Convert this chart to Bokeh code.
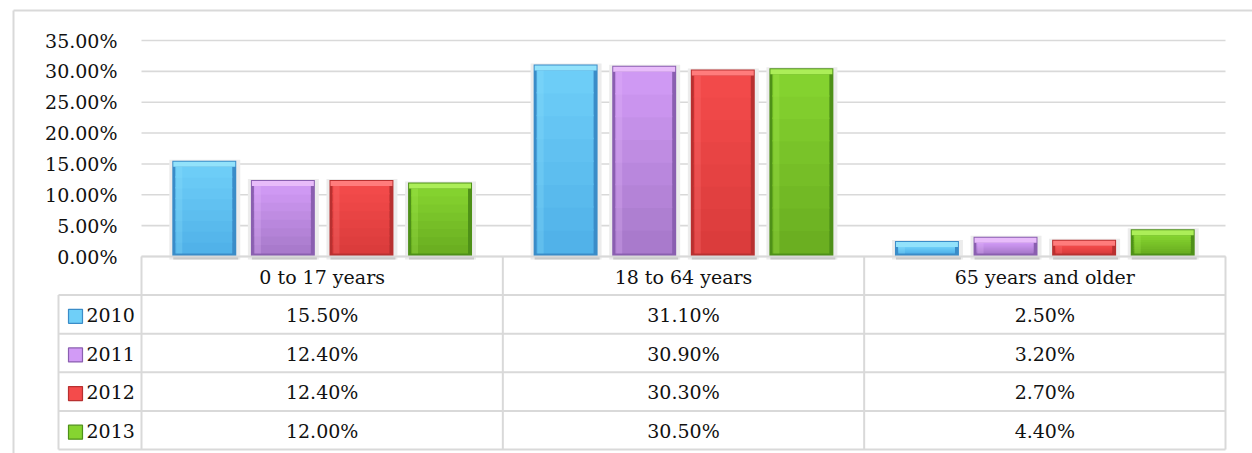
from bokeh.plotting import figure
from bokeh.models import Range1d, ColumnDataSource
from bokeh.embed import file_html
from bokeh.resources import INLINE
from bokeh.core.properties import value

# ---- data -------------------------------------------------------------
groups = ["0 to 17 years", "18 to 64 years", "65 years and older"]
years = ["2010", "2011", "2012", "2013"]
v2010 = [15.5, 31.1, 2.5]
v2011 = [12.4, 30.9, 3.2]
v2012 = [12.4, 30.3, 2.7]
v2013 = [12.0, 30.5, 4.4]
series = [v2010, v2011, v2012, v2013]
y_ticks = [0, 5, 10, 15, 20, 25, 30, 35]

# ---- styling ----------------------------------------------------------
FONT = "DejaVu Serif"
FSIZE = "19px"
GRID = "#d9d9d9"
TEXT = "#111111"
# (dark edge, face bottom, face top, light top bevel)
palette = [
    ("#3a8cc8", "#4fb0e8", "#6fcff8", "#92e2fb"),
    ("#8a5fb0", "#a678c9", "#d29bf6", "#e8bcfa"),
    ("#b83030", "#d93b3b", "#f44b4b", "#ff7c7c"),
    ("#4e9018", "#69ad20", "#86d430", "#acee58"),
]


def mix(c1, c2, t):
    a = [int(c1[i:i + 2], 16) for i in (1, 3, 5)]
    b = [int(c2[i:i + 2], 16) for i in (1, 3, 5)]
    return "#" + "".join(f"{round(x + (y - x) * t):02x}" for x, y in zip(a, b))


W, H = 1252, 453
CAT_PX = 361.33          # screen pixels per category
PCT_PX = 216 / 35.0      # screen pixels per percentage point
ROW_PX = 38.6            # height of a table row
X0_PX, Y0_PX = 141, 256  # screen position of the plot-area origin

x_range = Range1d(-X0_PX / CAT_PX, len(groups) + (W - 1225) / CAT_PX)
y_range = Range1d(-(H - Y0_PX) / PCT_PX, Y0_PX / PCT_PX)

p = figure(width=W, height=H, output_backend="svg", toolbar_location=None,
           x_range=x_range, y_range=y_range,
           x_axis_location=None, y_axis_location=None,
           min_border=0, min_border_left=0, min_border_right=0,
           min_border_top=0, min_border_bottom=0)
p.outline_line_color = None
p.grid.grid_line_color = None
p.background_fill_color = "white"
p.border_fill_color = "white"

# table rows use their own vertical scale (row index grows downward)
p.extra_y_ranges = {"table": Range1d((H - Y0_PX) / ROW_PX, -Y0_PX / ROW_PX)}

px_x = 1 / CAT_PX
px_y = 1 / PCT_PX

# outer chart border (left and top edges)
bx = -(X0_PX - 13) * px_x
by = (Y0_PX - 10) * px_y
p.segment(x0=[bx, bx], y0=[y_range.start, by], x1=[bx, x_range.end], y1=[by, by],
          line_color=GRID, line_width=2)

# horizontal gridlines and value-axis labels
p.segment(x0=[0] * len(y_ticks), y0=y_ticks, x1=[len(groups)] * len(y_ticks), y1=y_ticks,
          line_color=GRID, line_width=1.6)
p.text(x=[-24 * px_x] * len(y_ticks), y=y_ticks, text=[f"{v:.2f}%" for v in y_ticks],
       text_align="right", text_baseline="middle", text_font=value(FONT),
       text_font_size=value(FSIZE), text_color=TEXT)

# ---- bars -------------------------------------------------------------
bar_w = 0.177
step = 0.2175
offsets = [(j - 1.5) * step for j in range(len(years))]
N_SLICES = 8

for j, vals in enumerate(series):
    dark, face_lo, face_hi, light = palette[j]
    xc = [i + 0.5 + offsets[j] for i in range(len(groups))]
    left = [x - bar_w / 2 for x in xc]
    right = [x + bar_w / 2 for x in xc]
    src = ColumnDataSource(dict(left=left, right=right, top=vals,
                                bottom=[0] * len(vals)))
    # soft drop shadow
    p.quad(left=[l - 3 * px_x for l in left], right=[r + 4 * px_x for r in right],
           top=[v + 1 * px_y for v in vals], bottom=[-3 * px_y] * len(vals),
           fill_color="#ececec", line_color=None)
    p.quad(left=[l + 1 * px_x for l in left], right=[r + 2 * px_x for r in right],
           top=[0] * len(vals), bottom=[-3 * px_y] * len(vals),
           fill_color="#c9c9c9", line_color=None)
    # dark frame of the bevel
    p.quad(left="left", right="right", top="top", bottom="bottom", source=src,
           fill_color=dark, line_color=None)
    # face with a vertical gradient, built from slightly overlapping slices
    f_left = [l + 3 * px_x for l in left]
    f_right = [r - 4 * px_x for r in right]
    f_bot = 3 * px_y
    for k in range(N_SLICES):
        lo = [f_bot + (v - 6 * px_y - f_bot) * k / N_SLICES for v in vals]
        hi = [min(f_bot + (v - 6 * px_y - f_bot) * (k + 1) / N_SLICES + 1.5 * px_y,
                  v - 6 * px_y) for v in vals]
        p.quad(left=f_left, right=f_right, top=hi, bottom=lo,
               fill_color=mix(face_lo, face_hi, (k + 0.5) / N_SLICES),
               line_color=None)
    # lighter top bevel
    p.quad(left=[l + 1 * px_x for l in left], right=[r - 1 * px_x for r in right],
           top=[v - 1 * px_y for v in vals], bottom=[v - 6 * px_y for v in vals],
           fill_color=light, line_color=None)
    # subtle highlight on the left side of the face
    p.quad(left=[l + 4 * px_x for l in left], right=[l + 10 * px_x for l in left],
           top=[v - 6 * px_y for v in vals], bottom=[f_bot] * len(vals),
           fill_color=light, fill_alpha=0.25, line_color=None)

# ---- data table -------------------------------------------------------
leg_w = (X0_PX - 58) / CAT_PX
n_rows = len(years) + 1
ncat = len(groups)

# horizontal rules (header rule spans the category columns only)
hx0 = [0] + [-leg_w] * n_rows
hy = list(range(n_rows + 1))
p.segment(x0=hx0, y0=hy, x1=[ncat] * len(hy), y1=hy, y_range_name="table",
          line_color=GRID, line_width=2)
# vertical rules
vx = [-leg_w] + list(range(ncat + 1))
vy0 = [1] + [0] * (ncat + 1)
p.segment(x0=vx, y0=vy0, x1=vx, y1=[n_rows] * len(vx), y_range_name="table",
          line_color=GRID, line_width=2)

# header labels
p.text(x=[i + 0.5 for i in range(ncat)], y=[0.52] * ncat, text=groups,
       y_range_name="table", text_align="center", text_baseline="middle",
       text_font=value(FONT), text_font_size=value(FSIZE), text_color=TEXT)

# value cells
cx, cy, ct = [], [], []
for j, vals in enumerate(series):
    for i, v in enumerate(vals):
        cx.append(i + 0.5)
        cy.append(j + 1.52)
        ct.append(f"{v:.2f}%")
p.text(x=cx, y=cy, text=ct, y_range_name="table", text_align="center",
       text_baseline="middle", text_font=value(FONT), text_font_size=value(FSIZE),
       text_color=TEXT)

# legend keys and year labels
p.rect(x=[-leg_w + 17 * px_x] * len(years), y=[j + 1.55 for j in range(len(years))],
       width=14, height=14, width_units="screen", height_units="screen",
       y_range_name="table",
       fill_color=[c[2] for c in palette], line_color=[c[0] for c in palette],
       line_width=1.2)
p.text(x=[-leg_w + 28 * px_x] * len(years), y=[j + 1.52 for j in range(len(years))],
       text=years, y_range_name="table", text_align="left", text_baseline="middle",
       text_font=value(FONT), text_font_size=value(FSIZE), text_color=TEXT)

open("out.html", "w").write(file_html(p, INLINE))
